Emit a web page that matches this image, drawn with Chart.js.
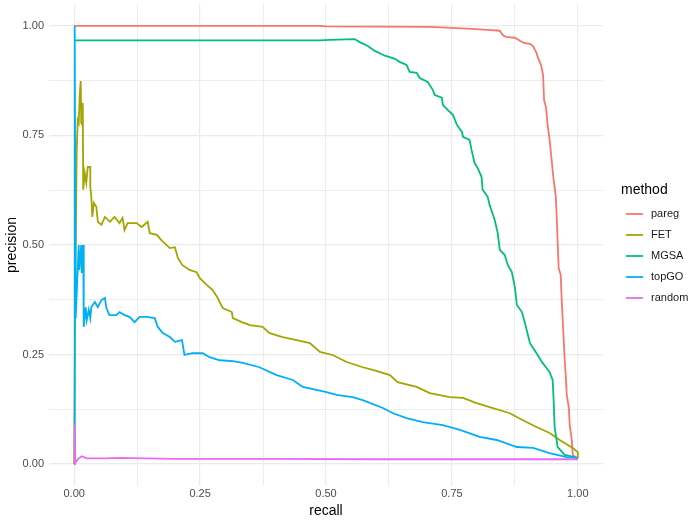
<!DOCTYPE html>
<html><head><meta charset="utf-8">
<script src="https://cdn.jsdelivr.net/npm/chart.js@4"></script>
<style>html,body{margin:0;padding:0;background:#fff}#wrap{width:689px;height:522px}</style>
</head><body><div id="wrap"><canvas id="c" width="689" height="522"></canvas></div>
<script>
const methods = ['pareg', 'FET', 'MGSA', 'topGO', 'random'];
const colors = ['#F8766D', '#A3A500', '#00BF7D', '#00B0F6', '#E76BF3'];
const legendTitle = 'method';
const majorTicks = [0, 0.25, 0.5, 0.75, 1];
const tickLabels = ['0.00', '0.25', '0.50', '0.75', '1.00'];
const minorTicks = [0.125, 0.375, 0.625, 0.875];

const paregRecall    = [0, 0.49, 0.50, 0.706, 0.781, 0.821, 0.845, 0.851, 0.857, 0.875, 0.885, 0.893, 0.905, 0.911, 0.917, 0.921, 0.927, 0.931, 0.933, 0.937, 0.940, 0.944, 0.948, 0.952, 0.956, 0.958, 0.960, 0.962, 0.966, 0.968, 0.970, 0.972, 0.974, 0.976, 0.978, 0.982, 0.984, 0.988, 0.990, 1.0];
const paregPrecision = [1.0, 1.0, 0.999, 0.998, 0.994, 0.991, 0.989, 0.979, 0.975, 0.973, 0.966, 0.961, 0.959, 0.954, 0.941, 0.927, 0.911, 0.888, 0.831, 0.813, 0.774, 0.740, 0.694, 0.648, 0.614, 0.568, 0.505, 0.447, 0.432, 0.374, 0.329, 0.283, 0.237, 0.203, 0.158, 0.130, 0.089, 0.055, 0.021, 0.011];

const fetRecall    = [0, 0.002, 0.005, 0.007, 0.009, 0.011, 0.013, 0.014, 0.016, 0.017, 0.018, 0.021, 0.024, 0.027, 0.032, 0.032, 0.034, 0.036, 0.039, 0.044, 0.047, 0.054, 0.061, 0.071, 0.080, 0.090, 0.096, 0.100, 0.106, 0.124, 0.134, 0.146, 0.150, 0.164, 0.174, 0.190, 0.200, 0.206, 0.215, 0.229, 0.243, 0.249, 0.263, 0.275, 0.285, 0.295, 0.313, 0.315, 0.333, 0.349, 0.374, 0.388, 0.414, 0.442, 0.468, 0.488, 0.513, 0.541, 0.573, 0.593, 0.627, 0.642, 0.680, 0.706, 0.746, 0.772, 0.799, 0.825, 0.865, 0.891, 0.919, 0.944, 0.964, 0.990, 1.0, 1.0];
const fetPrecision = [0, 0.374, 0.717, 0.785, 0.779, 0.842, 0.874, 0.779, 0.774, 0.824, 0.626, 0.664, 0.642, 0.678, 0.678, 0.633, 0.610, 0.564, 0.596, 0.587, 0.553, 0.546, 0.564, 0.553, 0.564, 0.550, 0.562, 0.534, 0.550, 0.550, 0.541, 0.553, 0.527, 0.523, 0.510, 0.493, 0.495, 0.470, 0.454, 0.443, 0.438, 0.425, 0.409, 0.397, 0.379, 0.356, 0.347, 0.333, 0.324, 0.317, 0.313, 0.299, 0.290, 0.283, 0.276, 0.256, 0.249, 0.233, 0.221, 0.215, 0.203, 0.187, 0.176, 0.162, 0.153, 0.151, 0.139, 0.130, 0.116, 0.100, 0.084, 0.071, 0.055, 0.037, 0.027, 0.014];

const mgsaRecall    = [0, 0.488, 0.507, 0.557, 0.567, 0.583, 0.597, 0.617, 0.637, 0.646, 0.660, 0.666, 0.680, 0.686, 0.702, 0.712, 0.716, 0.730, 0.732, 0.742, 0.752, 0.760, 0.770, 0.772, 0.785, 0.789, 0.795, 0.801, 0.809, 0.811, 0.821, 0.825, 0.835, 0.841, 0.845, 0.855, 0.861, 0.869, 0.875, 0.879, 0.889, 0.895, 0.905, 0.918, 0.930, 0.944, 0.950, 0.952, 0.954, 0.960, 0.974, 1.0];
const mgsaPrecision = [0.967, 0.967, 0.968, 0.970, 0.963, 0.954, 0.943, 0.932, 0.925, 0.918, 0.911, 0.895, 0.893, 0.881, 0.872, 0.854, 0.842, 0.836, 0.820, 0.808, 0.797, 0.774, 0.758, 0.747, 0.740, 0.717, 0.687, 0.676, 0.655, 0.626, 0.610, 0.591, 0.557, 0.527, 0.489, 0.477, 0.454, 0.438, 0.404, 0.363, 0.347, 0.322, 0.276, 0.253, 0.231, 0.210, 0.192, 0.146, 0.084, 0.039, 0.021, 0.014];

const topgoRecall    = [0, 0.001, 0.003, 0.009, 0.010, 0.014, 0.015, 0.018, 0.019, 0.023, 0.025, 0.029, 0.032, 0.034, 0.041, 0.047, 0.054, 0.061, 0.064, 0.070, 0.084, 0.090, 0.100, 0.110, 0.120, 0.130, 0.144, 0.160, 0.166, 0.176, 0.190, 0.200, 0.214, 0.219, 0.235, 0.255, 0.269, 0.289, 0.315, 0.335, 0.368, 0.402, 0.434, 0.454, 0.501, 0.521, 0.553, 0.573, 0.613, 0.633, 0.660, 0.692, 0.732, 0.766, 0.805, 0.839, 0.879, 0.911, 0.944, 0.978, 1.0];
const topgoPrecision = [0, 1.0, 0.333, 0.500, 0.443, 0.500, 0.436, 0.500, 0.313, 0.358, 0.329, 0.352, 0.333, 0.358, 0.370, 0.358, 0.374, 0.379, 0.356, 0.340, 0.340, 0.347, 0.340, 0.336, 0.324, 0.336, 0.336, 0.333, 0.313, 0.299, 0.290, 0.279, 0.283, 0.249, 0.253, 0.253, 0.244, 0.237, 0.235, 0.231, 0.221, 0.203, 0.192, 0.176, 0.164, 0.158, 0.153, 0.146, 0.128, 0.116, 0.105, 0.096, 0.089, 0.078, 0.062, 0.055, 0.039, 0.037, 0.025, 0.016, 0.014];

const randomRecall    = [0, 0.001, 0.002, 0.008, 0.015, 0.025, 0.06, 0.09, 0.2, 0.4, 0.6, 0.8, 1.0];
const randomPrecision = [0, 0.090, 0.003, 0.012, 0.018, 0.013, 0.013, 0.014, 0.012, 0.012, 0.011, 0.011, 0.011];

const recalls = [paregRecall, fetRecall, mgsaRecall, topgoRecall, randomRecall];
const precisions = [paregPrecision, fetPrecision, mgsaPrecision, topgoPrecision, randomPrecision];

const datasets = methods.map((m, i) => ({
  label: m,
  data: recalls[i].map((r, k) => ({x: r, y: precisions[i][k]})),
  borderColor: colors[i],
  backgroundColor: colors[i],
  borderWidth: 1.8,
  pointRadius: 0,
  tension: 0,
  order: methods.length - i
}));

const font = "'Liberation Sans', Arial, sans-serif";
const allTicks = majorTicks.concat(minorTicks).sort((a, b) => a - b);
const isMajor = v => majorTicks.some(t => Math.abs(t - v) < 1e-9);
const lbl = v => { const k = majorTicks.findIndex(t => Math.abs(t - v) < 1e-9); return k >= 0 ? tickLabels[k] : ''; };
const gridOpts = {
  color: '#EBEBEB',
  lineWidth: c => (c.tick && isMajor(c.tick.value)) ? 1.2 : 0.9,
  drawTicks: false
};

// ggplot-style legend drawn beside the panel from the chart's datasets
const ggLegend = {
  id: 'ggLegend',
  afterDraw(chart) {
    const {ctx, chartArea} = chart;
    const x0 = chartArea.right + 18;
    const mid = (chartArea.top + chartArea.bottom) / 2;
    const n = chart.data.datasets.length;
    const step = 21;
    const firstY = mid - step * (n - 1) / 2 + 11;
    ctx.save();
    ctx.textBaseline = 'middle';
    ctx.textAlign = 'left';
    ctx.fillStyle = '#000';
    ctx.font = "14px " + font;
    ctx.fillText(legendTitle, x0, firstY - 24);
    ctx.font = "11px " + font;
    chart.data.datasets.forEach((d, i) => {
      const y = firstY + i * step;
      ctx.strokeStyle = d.borderColor;
      ctx.lineWidth = 1.8;
      ctx.beginPath();
      ctx.moveTo(x0 + 5, y);
      ctx.lineTo(x0 + 22, y);
      ctx.stroke();
      ctx.fillStyle = '#1A1A1A';
      ctx.fillText(d.label, x0 + 30, y);
    });
    ctx.restore();
  }
};

new Chart(document.getElementById('c'), {
  type: 'line',
  data: { datasets },
  plugins: [ggLegend],
  options: {
    responsive: false,
    animation: false,
    layout: { padding: { top: 4, right: 86, bottom: 0, left: 0 } },
    scales: {
      x: {
        type: 'linear', min: -0.05, max: 1.05,
        afterBuildTicks: s => { s.ticks = allTicks.map(v => ({value: v})); },
        afterFit: s => { s.height = 36; s.paddingLeft = 0; s.paddingRight = 0; },
        grid: gridOpts, border: { display: false },
        ticks: { callback: v => lbl(v), autoSkip: false, maxRotation: 0, padding: 1, color: '#4D4D4D', font: { family: font, size: 11 } },
        title: { display: true, text: 'recall', color: '#000', padding: { top: 0, bottom: 2 }, font: { family: font, size: 14 } }
      },
      y: {
        type: 'linear', min: -0.05, max: 1.05,
        afterBuildTicks: s => { s.ticks = allTicks.map(v => ({value: v})); },
        afterFit: s => { s.width = 49; s.paddingTop = 0; s.paddingBottom = 0; },
        grid: gridOpts, border: { display: false },
        ticks: { callback: v => lbl(v), autoSkip: false, padding: 5, color: '#4D4D4D', font: { family: font, size: 11 } },
        title: { display: true, text: 'precision', color: '#000', padding: { top: 4, bottom: 0 }, font: { family: font, size: 14 } }
      }
    },
    plugins: {
      tooltip: { enabled: false },
      legend: { display: false }
    }
  }
});
</script>
</body></html>
